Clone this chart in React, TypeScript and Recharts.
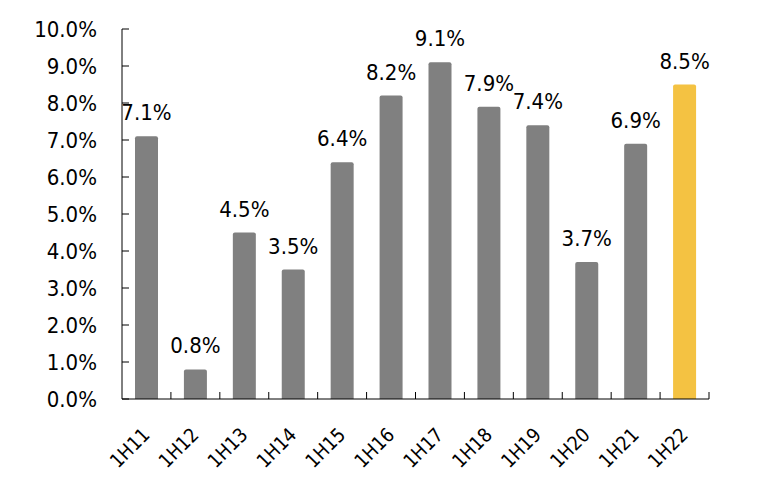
import { BarChart, Bar, XAxis, YAxis, Cell, LabelList } from 'recharts';

const periods = ['1H11', '1H12', '1H13', '1H14', '1H15', '1H16', '1H17', '1H18', '1H19', '1H20', '1H21', '1H22'];
const growth = [7.1, 0.8, 4.5, 3.5, 6.4, 8.2, 9.1, 7.9, 7.4, 3.7, 6.9, 8.5];
const yTicks = [0, 1, 2, 3, 4, 5, 6, 7, 8, 9, 10];

const GREY = '#808080';
const YELLOW = '#F4C242';
const FONT = '"DejaVu Sans Condensed", "DejaVu Sans", sans-serif';

const WIDTH = 749;
const HEIGHT = 470;
const MARGIN = { top: 21, right: 48, left: 0, bottom: 0 };
const Y_AXIS_W = 114;
const X_AXIS_H = 79;
const BAND = (WIDTH - MARGIN.left - MARGIN.right - Y_AXIS_W) / periods.length;

const data = periods.map((name, i) => ({ name, value: growth[i] }));

const fmt = (v: number) => `${v.toFixed(1)}%`;

// category label rotated, plus a small inside tick at the right edge of each band
const XTick = ({ x, y, payload }: any) => (
  <g>
    <line x1={x + BAND / 2} x2={x + BAND / 2} y1={y} y2={y - 7} stroke="#000" strokeWidth={1} />
    <text
      x={x + 4.5}
      y={y + 37}
      transform={`rotate(-45, ${x + 4.5}, ${y + 37})`}
      textAnchor="end"
      fontSize={19.5}
      fontFamily={FONT}
      fill="#000"
    >
      {payload.value}
    </text>
  </g>
);

// value label on the left, tick mark pointing into the plot
const YTick = ({ x, y, payload }: any) => (
  <g>
    <line x1={x} x2={x + 7} y1={y} y2={y} stroke="#000" strokeWidth={1} />
    <text x={x - 25} y={y} dy="0.36em" textAnchor="end" fontSize={22} fontFamily={FONT} fill="#000">
      {fmt(payload.value)}
    </text>
  </g>
);

export default function App() {
  return (
    <BarChart width={WIDTH} height={HEIGHT} data={data} margin={MARGIN} barSize={23}>
      <XAxis
        dataKey="name"
        height={X_AXIS_H}
        axisLine={{ stroke: '#000', strokeWidth: 1 }}
        tickLine={false}
        tickSize={0}
        tickMargin={0}
        interval={0}
        tick={<XTick />}
      />
      <YAxis
        width={Y_AXIS_W}
        domain={[0, 10]}
        ticks={yTicks}
        interval={0}
        axisLine={{ stroke: '#000', strokeWidth: 1 }}
        tickLine={false}
        tickSize={0}
        tickMargin={0}
        tick={<YTick />}
      />
      <Bar dataKey="value" isAnimationActive={false} radius={[2, 2, 0, 0]}>
        {data.map((_, i) => (
          <Cell key={`cell-${i}`} fill={i === data.length - 1 ? YELLOW : GREY} />
        ))}
        <LabelList
          dataKey="value"
          position="top"
          offset={16}
          formatter={(v: any) => fmt(Number(v))}
          fill="#000"
          fontSize={22}
          fontFamily={FONT}
        />
      </Bar>
    </BarChart>
  );
}
